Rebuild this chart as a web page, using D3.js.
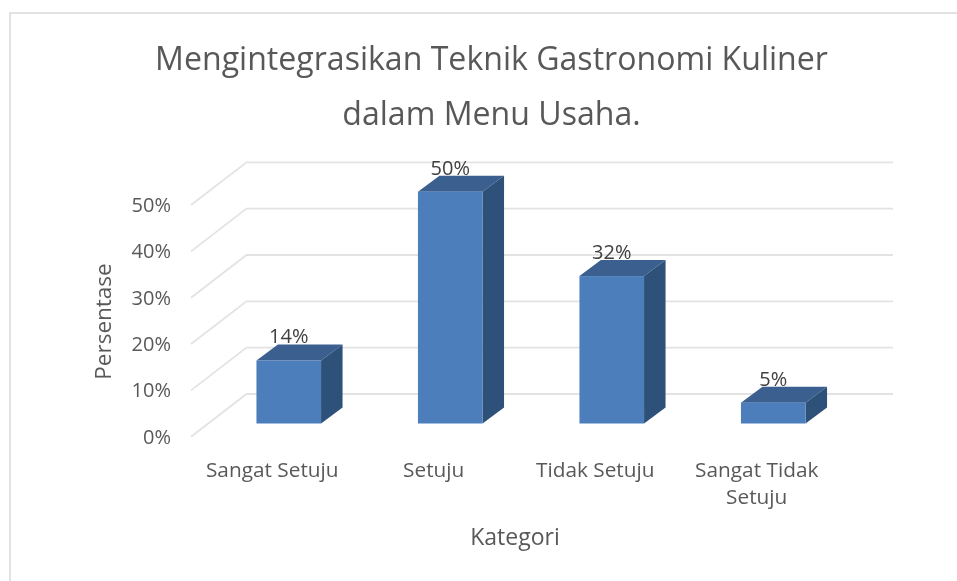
<!DOCTYPE html>
<html><head><meta charset="utf-8">
<script src="https://cdn.jsdelivr.net/npm/d3@7"></script>
<style>html,body{margin:0;padding:0;background:#fff}svg{display:block}text{font-family:"Open Sans","Noto Sans",sans-serif;fill:#595959}</style>
</head><body><div id="c"></div>
<script>
const categories = ["Sangat Setuju","Setuju","Tidak Setuju","Sangat Tidak Setuju"];
const values = [13.6,50,31.8,4.5];
const ticks = [0,10,20,30,40,50];
const titleLines = ["Mengintegrasikan Teknik Gastronomi Kuliner","dalam Menu Usaha."];
const W=957,H=581;
const svg=d3.select("#c").append("svg").attr("width",W).attr("height",H);
const blur=svg.append("defs").append("filter").attr("id","soft").attr("x","-5%").attr("y","-5%").attr("width","110%").attr("height","110%");
blur.append("feGaussianBlur").attr("stdDeviation",0.4);
const root=svg.append("g").attr("filter","url(#soft)");
root.append("rect").attr("x",10).attr("y",13).attr("width",W).attr("height",H).attr("fill","#fff").attr("stroke","#d9d9d9").attr("stroke-width",1.5);
titleLines.forEach((t,i)=>root.append("text").attr("x",491.5).attr("y",69.5+i*55).attr("text-anchor","middle").style("font-size","32.1px").text(t));
const yFloor=d3.scaleLinear().domain([0,50]).range([436.7,205]);
const yBar=d3.scaleLinear().domain([0,50]).range([423.5,191.7]);
const x=d3.scaleBand().domain(categories).range([208,854]);
const backDx=55.5,backDy=42.7,gridEnd=893,frontX=191;
const g=root.append("g").attr("fill","none").attr("stroke","#e3e3e3").attr("stroke-width",1.8);
ticks.forEach(t=>{
  const y=yFloor(t);
  g.append("path").attr("d",`M${frontX},${y}L${frontX+backDx},${y-backDy}H${gridEnd}`);
});
const yAxis=root.append("g");
ticks.forEach(t=>{
  yAxis.append("text").attr("x",171).attr("y",yFloor(t)+7).attr("text-anchor","end").style("font-size","20px").text(t+"%");
});
const bw=x.bandwidth()*0.4,dx=21.5,dy=16;
categories.forEach((c,i)=>{
  const x0=x(c)+x.bandwidth()/2-bw/2,x1=x0+bw,top=yBar(values[i]),bot=yBar(0);
  root.append("path").attr("fill","#3a6190").attr("d",`M${x0},${top}L${x0+dx},${top-dy}H${x1+dx}L${x1},${top}Z`);
  root.append("path").attr("fill","#2f5179").attr("d",`M${x1},${top}L${x1+dx},${top-dy}V${bot-dy}L${x1},${bot}Z`);
  root.append("rect").attr("x",x0).attr("y",top).attr("width",bw).attr("height",bot-top).attr("fill","#4b7ebb");
  root.append("text").attr("x",x0+bw/2).attr("y",top-17).attr("text-anchor","middle").style("font-size","20px").style("fill","#404040").text(Math.round(values[i])+"%");
});
const catLines=[["Sangat Setuju"],["Setuju"],["Tidak Setuju"],["Sangat Tidak","Setuju"]];
categories.forEach((c,i)=>{
  catLines[i].forEach((l,j)=>root.append("text").attr("x",x(c)+x.bandwidth()/2-16.5).attr("y",477+j*27).attr("text-anchor","middle").style("font-size","20.8px").text(l));
});
root.append("text").attr("x",515).attr("y",545).attr("text-anchor","middle").style("font-size","23px").text("Kategori");
root.append("text").attr("transform","translate(111,321.5) rotate(-90)").attr("text-anchor","middle").style("font-size","22.5px").text("Persentase");
</script></body></html>
